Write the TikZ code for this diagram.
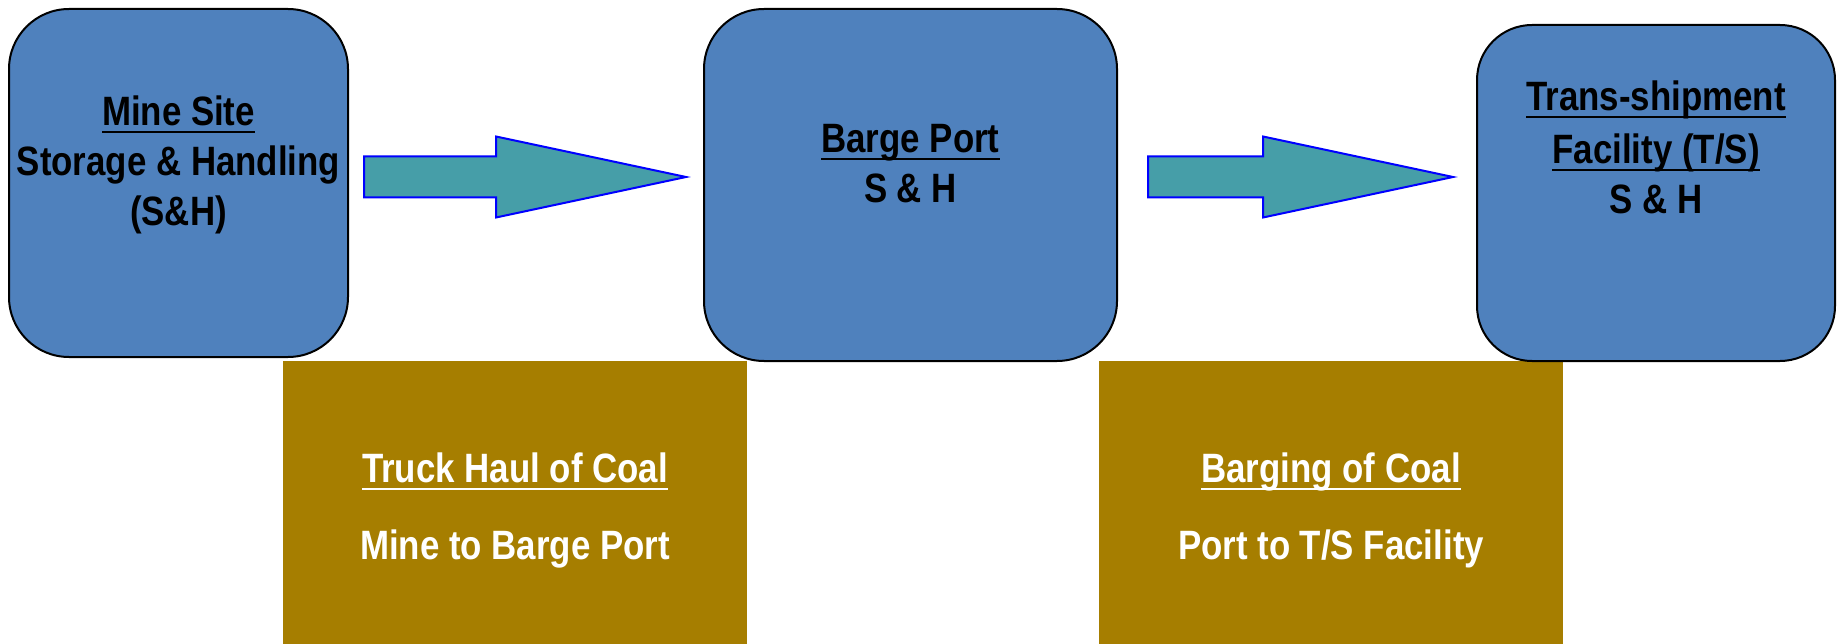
\documentclass[tikz,border=0pt]{standalone}
\usepackage{fontspec}
\setmainfont{Liberation Sans}[FakeStretch=0.85]
\usetikzlibrary{calc}

\definecolor{stageblue}{RGB}{79,129,189}
\definecolor{flowteal}{RGB}{70,158,168}
\definecolor{haulgold}{RGB}{166,126,0}

% underline with a fixed depth and thickness
\newcommand{\ulbar}[1]{\leavevmode\setbox0=\hbox{#1}\copy0\kern-\wd0\rule[-7pt]{\wd0}{2pt}}

\tikzset{
    stage/.style={draw=black, line width=2pt, fill=stageblue, rounded corners=60pt, inner sep=0pt},
    leg/.style={fill=haulgold, inner sep=0pt, minimum width=464pt, minimum height=283pt},
    flowarrow/.style={draw=blue, line width=2pt, fill=flowteal, line join=miter},
    stagetext/.style={anchor=base, inner sep=0pt, text=black, font=\fontsize{41}{50}\selectfont\bfseries},
    legtext/.style={stagetext, text=white}
}

\begin{document}
\begin{tikzpicture}[x=1pt, y=-1pt]
    % 1 unit = 1 pixel of the original, y grows downwards
    \useasboundingbox (0,0) rectangle (1839,644);

    % Transport legs (under the stages)
    \node[leg] (truck) at (515,502.5) {};
    \node[leg] (barge) at (1331,502.5) {};

    % Stages
    \node[stage, minimum width=339pt, minimum height=348pt] (mine) at (178.5,183) {};
    \node[stage, minimum width=413pt, minimum height=352pt] (port) at (910.5,185) {};
    \node[stage, rounded corners=55pt, minimum width=358pt, minimum height=336pt] (ts) at (1656,193) {};

    % Stage labels (base = first baseline)
    \node[stagetext] (mineT) at ($(mine.north)+(0,118)$)
        {\begin{tabular}[t]{@{}c@{}}\ulbar{Mine Site}\\Storage \& Handling\\(S\&H)\end{tabular}};
    \node[stagetext] (portT) at ($(port.north)+(0,145)$)
        {\begin{tabular}[t]{@{}c@{}}\ulbar{Barge Port}\\S \& H\end{tabular}};
    \node[stagetext] (tsT) at ($(ts.north)+(0,87)$)
        {\begin{tabular}[t]{@{}c@{}}\ulbar{Trans-shipment}\\[3pt]\ulbar{Facility (T/S)}\\S \& H\end{tabular}};

    % Leg labels
    \node[legtext] (truckT) at ($(truck.north)+(0,122)$)
        {\begin{tabular}[t]{@{}c@{}}\ulbar{Truck Haul of Coal}\\[27pt]Mine to Barge Port\end{tabular}};
    \node[legtext] (bargeT) at ($(barge.north)+(0,122)$)
        {\begin{tabular}[t]{@{}c@{}}\ulbar{Barging of Coal}\\[27pt]Port to T/S Facility\end{tabular}};

    % Block arrows between the stages
    \coordinate (a1t) at ($(mine.east)+(15,-6)$);
    \coordinate (a1h) at ($(port.west)+(-17,-8)$);
    \coordinate (a2t) at ($(port.east)+(30,-8)$);
    \coordinate (a2h) at ($(ts.west)+(-23,-16)$);
    \foreach \ta/\tb in {a1t/a1h, a2t/a2h}
        \draw[flowarrow] ($(\ta)+(0,-20.5)$) -- ($(\tb)+(-190,-20.5)$) -- ($(\tb)+(-190,-40.5)$)
            -- (\tb) -- ($(\tb)+(-190,40.5)$) -- ($(\tb)+(-190,20.5)$) -- ($(\ta)+(0,20.5)$) -- cycle;
\end{tikzpicture}
\end{document}
